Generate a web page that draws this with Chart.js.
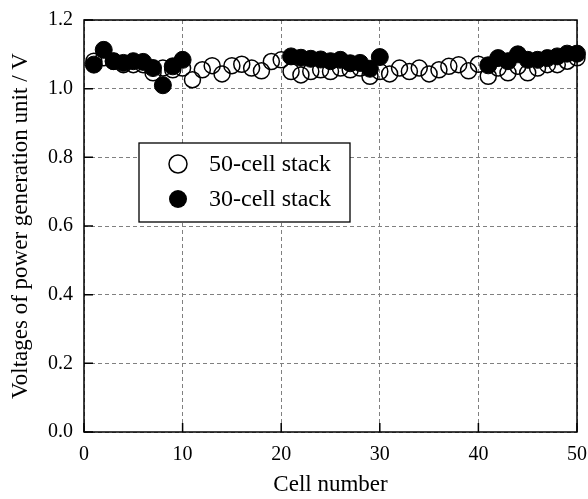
<!DOCTYPE html>
<html>
<head>
<meta charset="utf-8">
<script src="https://cdn.jsdelivr.net/npm/chart.js@4/dist/chart.umd.min.js"></script>
<style>
  body { margin: 0; background: #fff; }
  #wrap { width: 588px; height: 499px; }
</style>
</head>
<body>
<div id="wrap"><canvas id="chart" width="588" height="499"></canvas></div>
<script>
// --- data ---
const cells50 = [1, 2, 3, 4, 5, 6, 7, 8, 9, 10,
                 11, 12, 13, 14, 15, 16, 17, 18, 19, 20,
                 21, 22, 23, 24, 25, 26, 27, 28, 29, 30,
                 31, 32, 33, 34, 35, 36, 37, 38, 39, 40,
                 41, 42, 43, 44, 45, 46, 47, 48, 49, 50];
const volts50 = [1.08, 1.09, 1.08, 1.07, 1.07, 1.07, 1.046, 1.06, 1.055, 1.06,
                 1.026, 1.055, 1.067, 1.043, 1.067, 1.071, 1.06, 1.052, 1.079, 1.084,
                 1.05, 1.04, 1.05, 1.055, 1.05, 1.06, 1.055, 1.06, 1.036, 1.05,
                 1.043, 1.06, 1.05, 1.06, 1.043, 1.055, 1.065, 1.07, 1.052, 1.071,
                 1.036, 1.06, 1.046, 1.065, 1.046, 1.06, 1.07, 1.07, 1.08, 1.09];

const cells30 = [1, 2, 3, 4, 5, 6, 7, 8, 9, 10,
                 21, 22, 23, 24, 25, 26, 27, 28, 29, 30,
                 41, 42, 43, 44, 45, 46, 47, 48, 49, 50];
const volts30 = [1.07, 1.113, 1.08, 1.075, 1.08, 1.078, 1.06, 1.01, 1.065, 1.084,
                 1.094, 1.09, 1.087, 1.085, 1.08, 1.084, 1.074, 1.075, 1.058, 1.092,
                 1.068, 1.089, 1.08, 1.1, 1.084, 1.084, 1.089, 1.094, 1.102, 1.102];

const xTicks = [0, 10, 20, 30, 40, 50];
const yTicks = [0, 0.2, 0.4, 0.6, 0.8, 1.0, 1.2];
const legendLabels = ['50-cell stack', '30-cell stack'];

const serif = "'Liberation Serif', 'Times New Roman', serif";

// frame, inward ticks and the boxed legend
const decor = {
    id: 'decor',
    afterDatasetsDraw(chart) {
        const ctx = chart.ctx;
        const a = chart.chartArea;
        const xs = chart.scales.x, ys = chart.scales.y;
        ctx.save();
        ctx.strokeStyle = '#000';
        ctx.lineWidth = 1.5;
        ctx.strokeRect(a.left, a.top, a.right - a.left, a.bottom - a.top);

        ctx.beginPath();
        xTicks.forEach(v => {
            const px = xs.getPixelForValue(v);
            ctx.moveTo(px, a.bottom);
            ctx.lineTo(px, a.bottom - 9);
        });
        yTicks.forEach(v => {
            const py = ys.getPixelForValue(v);
            ctx.moveTo(a.left, py);
            ctx.lineTo(a.left + 9, py);
        });
        ctx.stroke();

        // legend box
        const bx = 139, by = 143, bw = 211, bh = 79;
        ctx.fillStyle = '#fff';
        ctx.fillRect(bx, by, bw, bh);
        ctx.lineWidth = 1.3;
        ctx.strokeRect(bx, by, bw, bh);

        ctx.font = '24px ' + serif;
        ctx.textBaseline = 'middle';
        ctx.textAlign = 'left';
        ctx.fillStyle = '#000';

        ctx.beginPath();
        ctx.arc(178, 164, 9, 0, Math.PI * 2);
        ctx.lineWidth = 1.5;
        ctx.stroke();
        ctx.fillText(legendLabels[0], 209, 165);

        ctx.beginPath();
        ctx.arc(178, 199, 9, 0, Math.PI * 2);
        ctx.fill();
        ctx.fillText(legendLabels[1], 209, 200);
        ctx.restore();
    }
};

new Chart(document.getElementById('chart'), {
    type: 'scatter',
    data: {
        datasets: [
            {
                label: legendLabels[1],
                data: cells30.map((c, i) => ({ x: c, y: volts30[i] })),
                pointRadius: 8.5,
                pointBackgroundColor: '#000',
                pointBorderColor: '#000',
                pointBorderWidth: 1,
                order: 0,
                clip: 12
            },
            {
                label: legendLabels[0],
                data: cells50.map((c, i) => ({ x: c, y: volts50[i] })),
                pointRadius: 8,
                pointBackgroundColor: 'rgba(0,0,0,0)',
                pointBorderColor: '#000',
                pointBorderWidth: 1.5,
                order: 1,
                clip: 12
            }
        ]
    },
    options: {
        responsive: false,
        animation: false,
        layout: { padding: { top: 20, right: 11, left: 0, bottom: 0 } },
        plugins: {
            legend: { display: false },
            tooltip: { enabled: false }
        },
        scales: {
            x: {
                type: 'linear',
                min: 0,
                max: 50,
                afterBuildTicks: s => { s.ticks = xTicks.map(v => ({ value: v })); },
                afterFit: s => { s.height = 67; s.paddingLeft = 0; s.paddingRight = 0; },
                grid: { color: '#808080', lineWidth: 1, drawTicks: false },
                border: { display: false, dash: [4, 3] },
                ticks: { color: '#000', padding: 11, font: { family: serif, size: 20 } },
                title: {
                    display: true,
                    text: 'Cell number',
                    color: '#000',
                    font: { family: serif, size: 23 },
                    padding: { top: 0, bottom: 0 }
                }
            },
            y: {
                type: 'linear',
                min: 0,
                max: 1.2,
                afterBuildTicks: s => { s.ticks = yTicks.map(v => ({ value: v })); },
                afterFit: s => { s.width = 84; s.paddingTop = 0; s.paddingBottom = 0; },
                grid: { color: '#808080', lineWidth: 1, drawTicks: false },
                border: { display: false, dash: [4, 3] },
                ticks: {
                    color: '#000',
                    padding: 11,
                    font: { family: serif, size: 20 },
                    callback: v => v.toFixed(1)
                },
                title: {
                    display: true,
                    text: 'Voltages of power generation unit / V',
                    color: '#000',
                    font: { family: serif, size: 23 },
                    padding: { top: 7, bottom: 0 }
                }
            }
        }
    },
    plugins: [decor]
});
</script>
</body>
</html>
